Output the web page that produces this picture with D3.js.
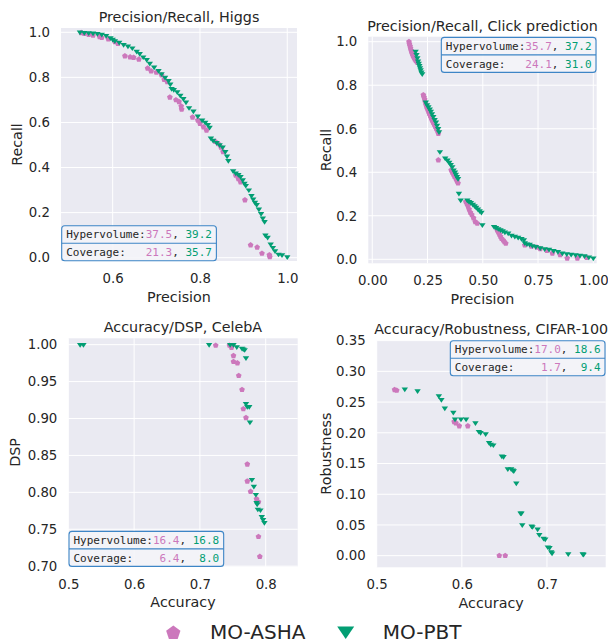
<!DOCTYPE html>
<html><head><meta charset="utf-8">
<script src="https://cdn.jsdelivr.net/npm/d3@7"></script>
<style>
html,body{margin:0;padding:0;background:#fff;}
svg text{font-family:"DejaVu Sans",sans-serif;fill:#262626;}
</style></head>
<body><svg id="c" width="608" height="643"></svg>
<script>
// ---------- DATA ----------
const seriesNames = ["MO-ASHA", "MO-PBT"];

const higgsAsha = [[0.528,0.998],[0.535,0.994],[0.545,0.99],[0.555,0.986],[0.57,0.98],[0.575,0.976],[0.59,0.97],[0.605,0.958],[0.612,0.95],[0.628,0.895],[0.64,0.89],[0.648,0.888],[0.66,0.88],[0.68,0.84],[0.688,0.828],[0.7,0.822],[0.712,0.81],[0.718,0.79],[0.725,0.78],[0.731,0.712],[0.745,0.7],[0.752,0.692],[0.757,0.672],[0.758,0.658],[0.783,0.623],[0.795,0.61],[0.8,0.595],[0.808,0.58],[0.815,0.565],[0.835,0.515],[0.842,0.505],[0.848,0.49],[0.853,0.47],[0.882,0.365],[0.888,0.35],[0.893,0.335],[0.903,0.256],[0.916,0.056],[0.931,0.046],[0.942,0.019],[0.959,0.012],[0.96,0.004]];
const higgsPbt = [[0.525,1.0],[0.535,0.998],[0.545,0.997],[0.555,0.996],[0.565,0.994],[0.575,0.99],[0.585,0.985],[0.595,0.975],[0.6,0.968],[0.605,0.962],[0.615,0.955],[0.625,0.945],[0.635,0.938],[0.645,0.93],[0.655,0.915],[0.662,0.905],[0.67,0.89],[0.678,0.878],[0.685,0.862],[0.695,0.845],[0.705,0.83],[0.712,0.815],[0.72,0.8],[0.728,0.785],[0.732,0.77],[0.735,0.75],[0.74,0.745],[0.748,0.735],[0.755,0.72],[0.762,0.705],[0.768,0.69],[0.775,0.665],[0.785,0.65],[0.795,0.628],[0.805,0.61],[0.812,0.6],[0.818,0.59],[0.822,0.578],[0.825,0.53],[0.83,0.52],[0.838,0.51],[0.845,0.5],[0.852,0.49],[0.858,0.47],[0.862,0.45],[0.865,0.43],[0.876,0.385],[0.882,0.375],[0.888,0.368],[0.893,0.36],[0.898,0.345],[0.902,0.33],[0.905,0.32],[0.912,0.3],[0.918,0.275],[0.922,0.26],[0.926,0.245],[0.93,0.235],[0.935,0.215],[0.94,0.195],[0.944,0.175],[0.948,0.16],[0.95,0.1],[0.955,0.09],[0.962,0.06],[0.967,0.045],[0.972,0.03],[0.98,0.015],[0.988,0.012],[1.0,0.003]];

const clickAsha = [[0.166,1.0],[0.168,0.99],[0.171,0.98],[0.173,0.97],[0.176,0.96],[0.178,0.952],[0.181,0.945],[0.184,0.935],[0.188,0.928],[0.192,0.92],[0.197,0.912],[0.203,0.905],[0.231,0.755],[0.234,0.745],[0.237,0.735],[0.24,0.722],[0.243,0.71],[0.246,0.7],[0.25,0.69],[0.254,0.68],[0.258,0.67],[0.262,0.66],[0.266,0.65],[0.27,0.64],[0.275,0.63],[0.28,0.62],[0.285,0.61],[0.29,0.6],[0.295,0.59],[0.299,0.578],[0.299,0.456],[0.357,0.41],[0.362,0.4],[0.367,0.39],[0.372,0.38],[0.378,0.37],[0.383,0.36],[0.388,0.35],[0.423,0.265],[0.428,0.255],[0.433,0.245],[0.438,0.23],[0.444,0.215],[0.45,0.205],[0.458,0.19],[0.466,0.172],[0.475,0.165],[0.565,0.134],[0.57,0.125],[0.575,0.115],[0.58,0.105],[0.585,0.095],[0.592,0.088],[0.598,0.08],[0.604,0.073],[0.69,0.065],[0.72,0.06],[0.745,0.055],[0.76,0.048],[0.79,0.04],[0.815,0.028],[0.85,0.02],[0.882,0.005],[0.928,0.005],[0.97,0.008]];
const clickPbt = [[0.196,0.955],[0.2,0.94],[0.204,0.925],[0.207,0.91],[0.21,0.9],[0.213,0.89],[0.216,0.88],[0.219,0.87],[0.222,0.86],[0.226,0.852],[0.242,0.722],[0.248,0.71],[0.254,0.7],[0.26,0.69],[0.265,0.68],[0.27,0.668],[0.276,0.655],[0.282,0.642],[0.288,0.63],[0.293,0.615],[0.298,0.6],[0.302,0.585],[0.306,0.494],[0.33,0.465],[0.34,0.455],[0.348,0.445],[0.355,0.435],[0.362,0.425],[0.368,0.41],[0.374,0.4],[0.378,0.39],[0.383,0.38],[0.388,0.37],[0.392,0.303],[0.4,0.272],[0.43,0.272],[0.438,0.265],[0.446,0.26],[0.455,0.252],[0.463,0.245],[0.47,0.238],[0.478,0.23],[0.486,0.222],[0.494,0.215],[0.498,0.158],[0.551,0.15],[0.56,0.145],[0.57,0.14],[0.58,0.135],[0.59,0.13],[0.6,0.125],[0.615,0.12],[0.63,0.11],[0.645,0.105],[0.66,0.1],[0.675,0.095],[0.686,0.089],[0.69,0.075],[0.7,0.07],[0.712,0.068],[0.725,0.062],[0.74,0.058],[0.76,0.052],[0.78,0.048],[0.8,0.045],[0.82,0.04],[0.84,0.035],[0.86,0.028],[0.88,0.025],[0.9,0.022],[0.92,0.02],[0.94,0.018],[0.96,0.015],[0.98,0.01],[1.0,0.005]];

const celebAsha = [[0.724,0.999],[0.745,0.999],[0.748,0.996],[0.751,0.985],[0.751,0.977],[0.757,0.975],[0.759,0.958],[0.764,0.939],[0.766,0.913],[0.77,0.901],[0.772,0.838],[0.772,0.815],[0.777,0.801],[0.786,0.791],[0.789,0.787],[0.789,0.74],[0.791,0.713]];
const celebPbt = [[0.518,1.0],[0.523,1.0],[0.714,1.0],[0.746,1.0],[0.751,1.0],[0.756,0.997],[0.764,0.995],[0.766,0.994],[0.768,0.993],[0.77,0.982],[0.77,0.92],[0.772,0.916],[0.775,0.916],[0.776,0.895],[0.779,0.817],[0.782,0.808],[0.785,0.797],[0.786,0.786],[0.787,0.784],[0.788,0.777],[0.792,0.776],[0.794,0.767],[0.796,0.763],[0.798,0.759]];

const cifarAsha = [[0.521,0.27],[0.5235,0.269],[0.591,0.218],[0.593,0.216],[0.597,0.211],[0.607,0.211],[0.644,0.0],[0.651,0.0]];
const cifarPbt = [[0.533,0.271],[0.548,0.268],[0.573,0.26],[0.576,0.254],[0.58,0.24],[0.59,0.233],[0.592,0.222],[0.599,0.222],[0.605,0.222],[0.616,0.216],[0.62,0.202],[0.622,0.2],[0.628,0.198],[0.632,0.184],[0.634,0.181],[0.637,0.18],[0.647,0.162],[0.649,0.161],[0.654,0.141],[0.658,0.141],[0.66,0.139],[0.661,0.138],[0.664,0.118],[0.669,0.069],[0.67,0.069],[0.671,0.05],[0.682,0.048],[0.683,0.047],[0.689,0.043],[0.691,0.034],[0.696,0.028],[0.698,0.027],[0.701,0.014],[0.703,0.013],[0.705,0.006],[0.706,0.004],[0.725,0.003],[0.742,0.003],[0.743,0.002]];

const titles = ["Precision/Recall, Higgs", "Precision/Recall, Click prediction", "Accuracy/DSP, CelebA", "Accuracy/Robustness, CIFAR-100"];
const xLabels = ["Precision", "Precision", "Accuracy", "Accuracy"];
const yLabels = ["Recall", "Recall", "DSP", "Robustness"];
const xTicks = [[0.6,0.8,1.0],[0,0.25,0.5,0.75,1.0],[0.5,0.6,0.7,0.8],[0.5,0.6,0.7]];
const yTicks = [[0,0.2,0.4,0.6,0.8,1.0],[0,0.2,0.4,0.6,0.8,1.0],[0.70,0.75,0.80,0.85,0.90,0.95,1.00],[0,0.05,0.10,0.15,0.20,0.25,0.30,0.35]];
const xFormats = [".1f", ".2f", ".1f", ".1f"];
const yFormats = [".1f", ".1f", ".2f", ".2f"];
const hypervolume = [[37.5,39.2],[35.7,37.2],[16.4,16.8],[17.0,18.6]];
const coverage = [[21.3,35.7],[24.1,31.0],[6.4,8.0],[1.7,9.4]];

// ---------- LAYOUT / STYLE ----------
const colors = ["#cc78bc", "#029e73"];
const panels = [
  {box:[61,28,297,261], xd:[0.4816,1.0223], yd:[-0.0146,1.019], ylx:16.7, stats:"bl", asha:higgsAsha, pbt:higgsPbt},
  {box:[368.3,36.7,596.7,263.3], xd:[-0.018,1.0154], yd:[-0.0184,1.023], ylx:325.7, stats:"tr", asha:clickAsha, pbt:clickPbt},
  {box:[68.3,338.3,297.7,566.7], xd:[0.5,0.8486], yd:[0.6993,1.0086], ylx:15, stats:"bl", asha:celebAsha, pbt:celebPbt},
  {box:[376.7,340,605.7,567.3], xd:[0.5,0.769], yd:[-0.0189,0.351], ylx:325.7, stats:"tr", asha:cifarAsha, pbt:cifarPbt}
];

const svg = d3.select("#c");

function pentagon(r){
  const pts = d3.range(5).map(k => { const a = (-90 + 72*k)*Math.PI/180; return [r*Math.cos(a), r*Math.sin(a)]; });
  return "M" + pts.map(p => p.join(",")).join("L") + "Z";
}
function triDown(w){
  const h = w*0.95;
  return `M${-w},${-h*0.55}L${w},${-h*0.55}L0,${h*1.0}Z`;
}
const pentPath = pentagon(3.0);
const triPath = triDown(3.2);

panels.forEach((p, i) => {
  const [x0,y0,x1,y1] = p.box;
  const x = d3.scaleLinear().domain(p.xd).range([x0,x1]);
  const y = d3.scaleLinear().domain(p.yd).range([y1,y0]);
  const g = svg.append("g");
  g.append("rect").attr("x",x0).attr("y",y0).attr("width",x1-x0).attr("height",y1-y0).attr("fill","#eaeaf2");

  // grid
  g.selectAll(".gx").data(xTicks[i]).join("line")
    .attr("x1",d=>x(d)).attr("x2",d=>x(d)).attr("y1",y0).attr("y2",y1)
    .attr("stroke","#fff").attr("stroke-width",1);
  g.selectAll(".gy").data(yTicks[i]).join("line")
    .attr("y1",d=>y(d)).attr("y2",d=>y(d)).attr("x1",x0).attr("x2",x1)
    .attr("stroke","#fff").attr("stroke-width",1);

  // axes via d3.axis
  const xa = g.append("g").attr("transform",`translate(0,${y1})`)
    .call(d3.axisBottom(x).tickValues(xTicks[i]).tickFormat(d3.format(xFormats[i])).tickSize(0).tickPadding(12.5));
  const ya = g.append("g").attr("transform",`translate(${x0},0)`)
    .call(d3.axisLeft(y).tickValues(yTicks[i]).tickFormat(d3.format(yFormats[i])).tickSize(0).tickPadding(11));
  [xa,ya].forEach(a => {
    a.select(".domain").remove();
    a.selectAll("text").attr("font-size",13.3).attr("font-family","DejaVu Sans").attr("fill","#262626");
  });

  // title and labels
  g.append("text").attr("x",(x0+x1)/2).attr("y",y0-11).attr("dy","0.35em")
    .attr("text-anchor","middle").attr("font-size",14.3).text(titles[i]);
  g.append("text").attr("x",(x0+x1)/2).attr("y",y1+35.5).attr("dy","0.35em")
    .attr("text-anchor","middle").attr("font-size",14.3).text(xLabels[i]);
  g.append("text").attr("transform",`translate(${p.ylx},${(y0+y1)/2}) rotate(-90)`).attr("dy","0.35em")
    .attr("text-anchor","middle").attr("font-size",14.3).text(yLabels[i]);

  // points
  g.selectAll(".a").data(p.asha).join("path")
    .attr("d",pentPath).attr("transform",d=>`translate(${x(d[0])},${y(d[1])})`)
    .attr("fill",colors[0]);
  g.selectAll(".b").data(p.pbt).join("path")
    .attr("d",triPath).attr("transform",d=>`translate(${x(d[0])},${y(d[1])})`)
    .attr("fill",colors[1]);

  // stats box
  const fs = 11, cw = fs*0.602, pad = 4.5;
  const bw = 22*cw + 2*pad, rowH = 17.5, bh = rowH*2;
  const bx = p.stats === "bl" ? x0 + 0.7 : x1 - bw - 0.7;
  const by = p.stats === "bl" ? y1 - bh - 0.3 : y0 + 0.7;
  const sb = g.append("g");
  sb.append("rect").attr("x",bx).attr("y",by).attr("width",bw).attr("height",bh).attr("rx",3)
    .attr("fill","#f4f4f8").attr("fill-opacity",0.9).attr("stroke","#3d85c6").attr("stroke-width",1.1);
  sb.append("line").attr("x1",bx).attr("x2",bx+bw).attr("y1",by+rowH).attr("y2",by+rowH)
    .attr("stroke","#3d85c6").attr("stroke-width",1.1);
  const rows = [["Hypervolume:", hypervolume[i]], ["Coverage:", coverage[i]]];
  rows.forEach((r, k) => {
    const t = sb.append("text").attr("x",bx+pad).attr("y",by+rowH*k+rowH/2).attr("dy","0.35em")
      .attr("font-size",fs).style("font-family","'DejaVu Sans Mono',monospace").style("white-space","pre");
    const v1 = d3.format("4.1f")(r[1][0]), v2 = d3.format("4.1f")(r[1][1]);
    const lbl = r[0].padEnd(12, " ");
    t.append("tspan").attr("fill","#262626").text(lbl);
    t.append("tspan").attr("fill",colors[0]).text(v1);
    t.append("tspan").attr("fill","#262626").text(", ");
    t.append("tspan").attr("fill",colors[1]).text(v2);
  });
});

// legend
const leg = svg.append("g");
const legItems = [{name:seriesNames[0], path:pentagon(7.5), mx:173.3, tx:210},{name:seriesNames[1], path:triDown(8.5), mx:345.7, tx:382.7}];
legItems.forEach((it, k) => {
  leg.append("path").attr("d",it.path).attr("transform",`translate(${it.mx},${k===0?633:631})`).attr("fill",colors[k]);
  leg.append("text").attr("x",it.tx).attr("y",632).attr("dy","0.35em").attr("font-size",20).text(it.name);
});
</script></body></html>
